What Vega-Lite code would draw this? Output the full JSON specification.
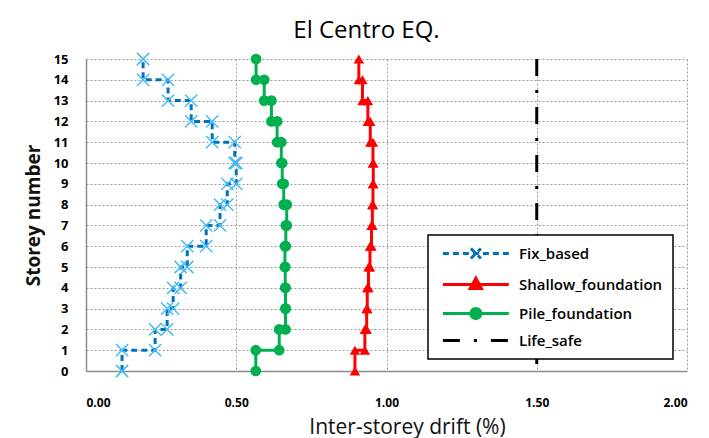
{
  "$schema": "https://vega.github.io/schema/vega-lite/v6.json",
  "width": 601,
  "height": 312,
  "autosize": {"type": "none"},
  "padding": {"left": 86, "top": 59, "right": 22, "bottom": 67},
  "background": "white",
  "title": {"text": "El Centro EQ.", "fontSize": 24, "font": "Open Sans", "fontWeight": "normal", "offset": 7, "dx": -20, "color": "#000000"},
  "config": {
    "view": {"stroke": null},
    "font": "Open Sans",
    "axis": {"gridColor": "#9a9a9a", "gridDash": [2, 2], "gridWidth": 1, "ticks": false, "domainColor": "#8c8c8c", "domainWidth": 1.5, "labelColor": "#000000", "titleColor": "#111111", "labelFont": "Open Sans", "titleFont": "Open Sans"}
  },
  "data": {"values": [
    {"s": "Fix_based", "x": 0.12, "y": 0, "i": 0},
    {"s": "Fix_based", "x": 0.12, "y": 1, "i": 1},
    {"s": "Fix_based", "x": 0.23, "y": 1, "i": 2},
    {"s": "Fix_based", "x": 0.23, "y": 2, "i": 3},
    {"s": "Fix_based", "x": 0.27, "y": 2, "i": 4},
    {"s": "Fix_based", "x": 0.27, "y": 3, "i": 5},
    {"s": "Fix_based", "x": 0.29, "y": 3, "i": 6},
    {"s": "Fix_based", "x": 0.29, "y": 4, "i": 7},
    {"s": "Fix_based", "x": 0.315, "y": 4, "i": 8},
    {"s": "Fix_based", "x": 0.315, "y": 5, "i": 9},
    {"s": "Fix_based", "x": 0.337, "y": 5, "i": 10},
    {"s": "Fix_based", "x": 0.337, "y": 6, "i": 11},
    {"s": "Fix_based", "x": 0.4, "y": 6, "i": 12},
    {"s": "Fix_based", "x": 0.4, "y": 7, "i": 13},
    {"s": "Fix_based", "x": 0.446, "y": 7, "i": 14},
    {"s": "Fix_based", "x": 0.446, "y": 8, "i": 15},
    {"s": "Fix_based", "x": 0.47, "y": 8, "i": 16},
    {"s": "Fix_based", "x": 0.47, "y": 9, "i": 17},
    {"s": "Fix_based", "x": 0.5, "y": 9, "i": 18},
    {"s": "Fix_based", "x": 0.5, "y": 10, "i": 19},
    {"s": "Fix_based", "x": 0.495, "y": 10, "i": 20},
    {"s": "Fix_based", "x": 0.495, "y": 11, "i": 21},
    {"s": "Fix_based", "x": 0.42, "y": 11, "i": 22},
    {"s": "Fix_based", "x": 0.42, "y": 12, "i": 23},
    {"s": "Fix_based", "x": 0.35, "y": 12, "i": 24},
    {"s": "Fix_based", "x": 0.35, "y": 13, "i": 25},
    {"s": "Fix_based", "x": 0.273, "y": 13, "i": 26},
    {"s": "Fix_based", "x": 0.273, "y": 14, "i": 27},
    {"s": "Fix_based", "x": 0.19, "y": 14, "i": 28},
    {"s": "Fix_based", "x": 0.19, "y": 15, "i": 29},
    {"s": "Shallow_foundation", "x": 0.895, "y": 0, "i": 0},
    {"s": "Shallow_foundation", "x": 0.895, "y": 1, "i": 1},
    {"s": "Shallow_foundation", "x": 0.928, "y": 1, "i": 2},
    {"s": "Shallow_foundation", "x": 0.928, "y": 2, "i": 3},
    {"s": "Shallow_foundation", "x": 0.934, "y": 2, "i": 4},
    {"s": "Shallow_foundation", "x": 0.934, "y": 3, "i": 5},
    {"s": "Shallow_foundation", "x": 0.936, "y": 3, "i": 6},
    {"s": "Shallow_foundation", "x": 0.936, "y": 4, "i": 7},
    {"s": "Shallow_foundation", "x": 0.94, "y": 4, "i": 8},
    {"s": "Shallow_foundation", "x": 0.94, "y": 5, "i": 9},
    {"s": "Shallow_foundation", "x": 0.945, "y": 5, "i": 10},
    {"s": "Shallow_foundation", "x": 0.945, "y": 6, "i": 11},
    {"s": "Shallow_foundation", "x": 0.95, "y": 6, "i": 12},
    {"s": "Shallow_foundation", "x": 0.95, "y": 7, "i": 13},
    {"s": "Shallow_foundation", "x": 0.953, "y": 7, "i": 14},
    {"s": "Shallow_foundation", "x": 0.953, "y": 8, "i": 15},
    {"s": "Shallow_foundation", "x": 0.955, "y": 8, "i": 16},
    {"s": "Shallow_foundation", "x": 0.955, "y": 9, "i": 17},
    {"s": "Shallow_foundation", "x": 0.956, "y": 9, "i": 18},
    {"s": "Shallow_foundation", "x": 0.956, "y": 10, "i": 19},
    {"s": "Shallow_foundation", "x": 0.955, "y": 10, "i": 20},
    {"s": "Shallow_foundation", "x": 0.955, "y": 11, "i": 21},
    {"s": "Shallow_foundation", "x": 0.946, "y": 11, "i": 22},
    {"s": "Shallow_foundation", "x": 0.946, "y": 12, "i": 23},
    {"s": "Shallow_foundation", "x": 0.938, "y": 12, "i": 24},
    {"s": "Shallow_foundation", "x": 0.938, "y": 13, "i": 25},
    {"s": "Shallow_foundation", "x": 0.92, "y": 13, "i": 26},
    {"s": "Shallow_foundation", "x": 0.92, "y": 14, "i": 27},
    {"s": "Shallow_foundation", "x": 0.908, "y": 14, "i": 28},
    {"s": "Shallow_foundation", "x": 0.908, "y": 15, "i": 29},
    {"s": "Pile_foundation", "x": 0.565, "y": 0, "i": 0},
    {"s": "Pile_foundation", "x": 0.565, "y": 1, "i": 1},
    {"s": "Pile_foundation", "x": 0.643, "y": 1, "i": 2},
    {"s": "Pile_foundation", "x": 0.643, "y": 2, "i": 3},
    {"s": "Pile_foundation", "x": 0.664, "y": 2, "i": 4},
    {"s": "Pile_foundation", "x": 0.664, "y": 3, "i": 5},
    {"s": "Pile_foundation", "x": 0.664, "y": 3, "i": 6},
    {"s": "Pile_foundation", "x": 0.664, "y": 4, "i": 7},
    {"s": "Pile_foundation", "x": 0.663, "y": 4, "i": 8},
    {"s": "Pile_foundation", "x": 0.663, "y": 5, "i": 9},
    {"s": "Pile_foundation", "x": 0.662, "y": 5, "i": 10},
    {"s": "Pile_foundation", "x": 0.662, "y": 6, "i": 11},
    {"s": "Pile_foundation", "x": 0.665, "y": 6, "i": 12},
    {"s": "Pile_foundation", "x": 0.665, "y": 7, "i": 13},
    {"s": "Pile_foundation", "x": 0.668, "y": 7, "i": 14},
    {"s": "Pile_foundation", "x": 0.668, "y": 8, "i": 15},
    {"s": "Pile_foundation", "x": 0.658, "y": 8, "i": 16},
    {"s": "Pile_foundation", "x": 0.658, "y": 9, "i": 17},
    {"s": "Pile_foundation", "x": 0.653, "y": 9, "i": 18},
    {"s": "Pile_foundation", "x": 0.653, "y": 10, "i": 19},
    {"s": "Pile_foundation", "x": 0.65, "y": 10, "i": 20},
    {"s": "Pile_foundation", "x": 0.65, "y": 11, "i": 21},
    {"s": "Pile_foundation", "x": 0.636, "y": 11, "i": 22},
    {"s": "Pile_foundation", "x": 0.636, "y": 12, "i": 23},
    {"s": "Pile_foundation", "x": 0.617, "y": 12, "i": 24},
    {"s": "Pile_foundation", "x": 0.617, "y": 13, "i": 25},
    {"s": "Pile_foundation", "x": 0.593, "y": 13, "i": 26},
    {"s": "Pile_foundation", "x": 0.593, "y": 14, "i": 27},
    {"s": "Pile_foundation", "x": 0.566, "y": 14, "i": 28},
    {"s": "Pile_foundation", "x": 0.566, "y": 15, "i": 29},
    {"s": "Life_safe", "x": 1.5, "y": 15, "i": 0},
    {"s": "Life_safe", "x": 1.5, "y": 0, "i": 1}
  ]},
  "encoding": {
    "x": {"field": "x", "type": "quantitative", "scale": {"domain": [0, 2], "nice": false, "zero": false},
      "axis": {"values": [0, 0.5, 1, 1.5, 2], "format": ".2f", "labelFontSize": 12, "labelFontWeight": "bold", "labelPadding": 26, "title": "Inter-storey drift (%)", "titleFontSize": 21, "titleFontWeight": "normal", "titleX": 321, "titleY": 62, "titleBaseline": "alphabetic", "titleAnchor": "middle", "titleAlign": "center"}},
    "y": {"field": "y", "type": "quantitative", "scale": {"domain": [0, 15], "nice": false, "zero": false},
      "axis": {"values": [0, 1, 2, 3, 4, 5, 6, 7, 8, 9, 10, 11, 12, 13, 14, 15], "labelFontSize": 13, "labelFontWeight": "bold", "labelPadding": 18, "title": "Storey number", "titleFontSize": 19, "titleFontWeight": "bold", "titleX": -53, "titleBaseline": "middle"}}
  },
  "layer": [
    {
      "mark": {"type": "line", "interpolate": "linear"},
      "encoding": {
        "order": {"field": "i", "type": "quantitative"},
        "color": {"field": "s", "type": "nominal",
          "scale": {"domain": ["Fix_based", "Shallow_foundation", "Pile_foundation", "Life_safe"], "range": ["#0070C0", "#FF0000", "#00B050", "#000000"]},
          "legend": {
            "title": null, "orient": "none", "legendX": 342, "legendY": 176,
            "padding": 10, "fillColor": "white", "strokeColor": "#000000",
            "symbolSize": 174, "symbolStrokeWidth": 3, "symbolOffset": 3, "labelOffset": 61, "labelFontSize": 15, "labelFontWeight": 600, "labelFont": "Open Sans", "labelColor": "#000000", "rowPadding": 7, "labelLimit": 300,
            "encode": {
              "legend": {"update": {"strokeWidth": {"value": 1.5}}},
              "symbols": {"update": {
              "shape": {"signal": "datum.value == 'Fix_based' ? 'M-1,0H9M3.24,-0.76L4.76,0.76M3.24,0.76L4.76,-0.76' : datum.value == 'Shallow_foundation' ? 'M-1,0H9M4,-0.95L4.85,0.6L3.15,0.6Z' : datum.value == 'Pile_foundation' ? 'M-1,0H9M4.76,0A0.76,0.76,0,1,1,3.24,0A0.76,0.76,0,1,1,4.76,0Z' : 'M-1,0H9'"},
              "fill": {"signal": "datum.value == 'Shallow_foundation' ? '#FF0000' : datum.value == 'Pile_foundation' ? '#00B050' : 'transparent'"},
              "fillOpacity": {"value": 1},
              "opacity": {"value": 1},
              "strokeDash": {"signal": "datum.value == 'Fix_based' ? [6, 3] : datum.value == 'Life_safe' ? [9, 6, 2, 6] : [1, 0]"}
            }}}
          }},
        "strokeDash": {"field": "s", "type": "nominal", "legend": null,
          "scale": {"domain": ["Fix_based", "Shallow_foundation", "Pile_foundation", "Life_safe"], "range": [[6, 4], [1, 0], [1, 0], [17, 14, 3, 14]]}},
        "strokeWidth": {"field": "s", "type": "nominal", "legend": null,
          "scale": {"domain": ["Fix_based", "Shallow_foundation", "Pile_foundation", "Life_safe"], "range": [3, 3, 3, 4]}}
      }
    },
    {
      "transform": [{"filter": "datum.s == 'Fix_based'"}],
      "mark": {"type": "point", "shape": "M-1,-1L1,1M-1,1L1,-1", "filled": false, "stroke": "#45BDF2", "strokeWidth": 1.5, "size": 150, "opacity": 1}
    },
    {
      "transform": [{"filter": "datum.s == 'Shallow_foundation'"}],
      "mark": {"type": "point", "shape": "triangle-up", "filled": true, "color": "#FF0000", "size": 110, "opacity": 1}
    },
    {
      "transform": [{"filter": "datum.s == 'Pile_foundation'"}],
      "mark": {"type": "point", "shape": "circle", "filled": true, "color": "#00B050", "size": 115, "opacity": 1}
    }
  ]
}
